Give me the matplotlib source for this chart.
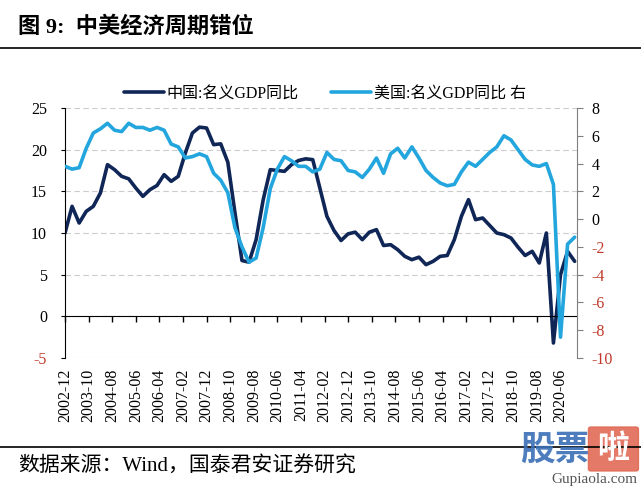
import matplotlib
matplotlib.use("Agg")
import matplotlib.pyplot as plt
from matplotlib.lines import Line2D
from matplotlib.patches import FancyBboxPatch

# quarterly points, x = months since 2002-12
months = list(range(0, 217, 3))

china_gdp = [10.0, 13.2, 11.2, 12.6, 13.2, 14.8, 18.2, 17.6, 16.8, 16.5,
             15.4, 14.4, 15.2, 15.7, 17.0, 16.2, 16.8, 19.6, 22.0, 22.7,
             22.6, 20.6, 20.7, 18.5, 12.5, 6.7, 6.5, 9.2, 14.0, 17.6,
             17.5, 17.4, 18.2, 18.7, 18.9, 18.8, 15.4, 12.0, 10.3, 9.1,
             9.9, 10.1, 9.2, 10.1, 10.4, 8.5, 8.6, 8.0, 7.2, 6.8,
             7.1, 6.2, 6.6, 7.2, 7.3, 9.2, 12.0, 14.0, 11.6, 11.8,
             10.9, 10.0, 9.8, 9.4, 8.3, 7.3, 7.8, 6.4, 10.0, -3.2,
             5.0, 7.8, 6.6]

us_gdp = [3.8, 3.6, 3.7, 5.1, 6.2, 6.5, 6.9, 6.4, 6.3, 6.9,
          6.6, 6.6, 6.4, 6.6, 6.4, 5.4, 5.2, 4.4, 4.5, 4.7,
          4.5, 3.3, 2.8, 1.9, -0.6, -2.0, -3.1, -2.8, -0.6, 2.2,
          3.6, 4.5, 4.2, 3.8, 3.8, 3.4, 3.6, 4.8, 4.3, 4.2,
          3.5, 3.4, 3.0, 3.6, 4.4, 3.3, 4.7, 5.1, 4.4, 5.2,
          4.4, 3.5, 3.0, 2.6, 2.4, 2.5, 3.4, 4.1, 3.8, 4.3,
          4.8, 5.2, 6.0, 5.7, 5.0, 4.3, 3.9, 3.8, 4.0, 2.5,
          -8.5, -1.8, -1.3]

tick_months = list(range(0, 211, 10))
tick_labels = ['2002-12', '2003-10', '2004-08', '2005-06', '2006-04', '2007-02',
               '2007-12', '2008-10', '2009-08', '2010-06', '2011-04', '2012-02',
               '2012-12', '2013-10', '2014-08', '2015-06', '2016-04', '2017-02',
               '2017-12', '2018-10', '2019-08', '2020-06']
left_ticks = [-5, 0, 5, 10, 15, 20, 25]
right_ticks = [-10, -8, -6, -4, -2, 0, 2, 4, 6, 8]

dark = '#0f2656'
light = '#23a6de'
red = '#c0392b'
mix = ['Liberation Serif', 'Noto Sans CJK SC']

fig = plt.figure(figsize=(6.41, 4.88), dpi=100)
ax = fig.add_axes([0.1014, 0.2664, 0.7988, 0.5123])
ax2 = ax.twinx()

l1, = ax.plot(months, china_gdp, color=dark, lw=2.6, solid_capstyle='round')
l2, = ax2.plot(months, us_gdp, color=light, lw=2.6, solid_capstyle='round')

ax.set_xlim(0, 217)
ax.set_ylim(-5, 25)
ax2.set_ylim(-10, 8)

# x axis line sits at zero, labels pushed under the plot
ax.spines['bottom'].set_position(('data', 0))
ax.spines['top'].set_visible(False)
ax.spines['right'].set_visible(False)
for s in ['top', 'left', 'bottom']:
    ax2.spines[s].set_visible(False)
ax2.spines['right'].set_color('#7f7f7f')

ax.set_xticks(tick_months)
ax.set_xticklabels(tick_labels, rotation=90, family='Liberation Serif', fontsize=11.5)
ax.tick_params(axis='x', direction='out', length=4.5, width=1, pad=33)

ax.set_yticks(left_ticks)
ax.set_yticklabels([str(v) for v in left_ticks], family='Liberation Serif', fontsize=11.5)
ax.tick_params(axis='y', length=3, pad=10)
for v, t in zip(left_ticks, ax.get_yticklabels()):
    t.set_color(red if v < 0 else 'black')

ax2.set_yticks(right_ticks)
ax2.set_yticklabels([str(v) for v in right_ticks], family='Liberation Serif', fontsize=11.5)
ax2.tick_params(axis='y', length=4.5, pad=6, color='#7f7f7f')
for v, t in zip(right_ticks, ax2.get_yticklabels()):
    t.set_color(red if v < 0 else 'black')

ax.yaxis.grid(True, linestyle=(0, (5, 3)), color='#cccccc', lw=0.8)
ax.set_axisbelow(True)

fig.legend([l1, l2], ['中国:名义GDP同比', '美国:名义GDP同比 右'],
           loc='center', bbox_to_anchor=(0.507, 0.809), ncol=2, frameon=False,
           prop={'family': mix, 'size': 11.5}, handlelength=2.5,
           handletextpad=0.2, columnspacing=2.0)

fig.text(0.028, 1 - 27 / 488, '图 9:  中美经济周期错位', fontsize=16, fontweight='bold',
         family=mix, va='center')
fig.add_artist(Line2D([0, 1], [1 - 48 / 488] * 2, color='black', lw=1.2))
fig.add_artist(Line2D([0, 1], [1 - 447 / 488] * 2, color='black', lw=1.2))
fig.text(0.028, 1 - 467 / 488, '数据来源：Wind，国泰君安证券研究', fontsize=15,
         family=mix, va='center')

# watermark in the corner
fig.text(0.812, 1 - 449 / 488, '股票', fontsize=25, fontweight='bold', color='#3b6fb6',
         family='Noto Sans CJK SC', va='center', alpha=0.9)
fig.add_artist(FancyBboxPatch((0.922, 1 - 469 / 488), 0.07, 0.082,
                              boxstyle='round,pad=0.004', transform=fig.transFigure,
                              color='#e06a55', alpha=0.9))
fig.text(0.957, 1 - 449 / 488, '啦', fontsize=23, fontweight='bold', color='white',
         family='Noto Sans CJK SC', va='center', ha='center')
fig.text(0.995, 1 - 479 / 488, 'Gupiaola.com', fontsize=11, color='#555555',
         family='Liberation Serif', va='center', ha='right')

fig.savefig('out.png', dpi=100)
